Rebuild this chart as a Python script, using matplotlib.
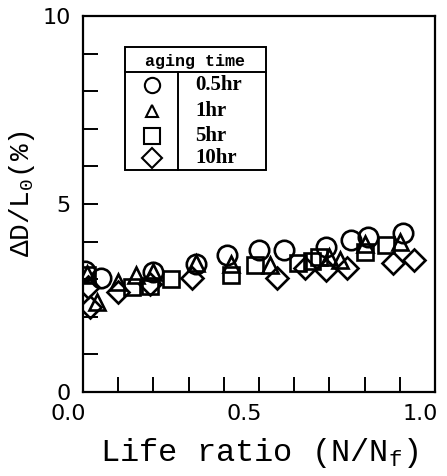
import matplotlib
matplotlib.use('Agg')
import matplotlib.pyplot as plt
from matplotlib.patches import Rectangle
from matplotlib.ticker import MultipleLocator, FormatStrFormatter
from matplotlib.transforms import ScaledTranslation

# life ratio (N/Nf) and dD/L0 (%), one pair of lists per aging time
x_05hr = [0.005, 0.05, 0.20, 0.32, 0.41, 0.50, 0.57, 0.69, 0.76, 0.81, 0.91]
y_05hr = [3.22, 3.04, 3.19, 3.40, 3.64, 3.78, 3.78, 3.86, 4.04, 4.12, 4.24]

x_1hr = [0.01, 0.04, 0.10, 0.15, 0.20, 0.32, 0.42, 0.53, 0.70, 0.73, 0.80, 0.90]
y_1hr = [3.15, 2.40, 2.92, 3.10, 3.20, 3.42, 3.40, 3.38, 3.60, 3.52, 3.94, 3.98]

x_5hr = [0.01, 0.14, 0.19, 0.25, 0.42, 0.49, 0.61, 0.65, 0.67, 0.80, 0.86]
y_5hr = [3.10, 2.78, 2.82, 3.00, 3.10, 3.38, 3.43, 3.48, 3.58, 3.72, 3.92]

x_10hr = [0.015, 0.02, 0.10, 0.19, 0.31, 0.55, 0.63, 0.69, 0.75, 0.88, 0.94]
y_10hr = [2.80, 2.25, 2.66, 2.86, 3.02, 3.03, 3.30, 3.24, 3.30, 3.43, 3.50]

labels = ['0.5hr', '1hr', '5hr', '10hr']
markers = ['o', '^', 's', 'D']
sizes = [14, 12, 12, 11]

fig = plt.figure(figsize=(4.47, 4.76), dpi=100)
ax = fig.add_axes([83/447, 84/476, 352/447, 376/476])

series = [(x_05hr, y_05hr), (x_1hr, y_1hr), (x_5hr, y_5hr), (x_10hr, y_10hr)]
for (xs, ys), m, s in zip(series, markers, sizes):
    ax.plot(xs, ys, linestyle='none', marker=m, markersize=s,
            markerfacecolor='none', markeredgecolor='black', markeredgewidth=1.9)

ax.set_xlim(0, 1.0)
ax.set_ylim(0, 10)
ax.xaxis.set_major_locator(MultipleLocator(0.5))
ax.xaxis.set_minor_locator(MultipleLocator(0.1))
ax.yaxis.set_major_locator(MultipleLocator(5))
ax.yaxis.set_minor_locator(MultipleLocator(1))
ax.xaxis.set_major_formatter(FormatStrFormatter('%.1f'))
ax.tick_params(which='both', direction='in', length=11, width=1.4,
               top=False, right=False, labelsize=16, pad=9)
for sp in ax.spines.values():
    sp.set_linewidth(1.6)

# x tick labels sit a bit left of their ticks in the original
shift = ScaledTranslation(-15/100, 0, fig.dpi_scale_trans)
for lab in ax.get_xticklabels():
    lab.set_transform(lab.get_transform() + shift)

mono = ['Liberation Mono', 'DejaVu Sans Mono']
ax.set_xlabel('Life ratio (N/N$_\\mathregular{f}$)', family=mono, fontsize=23, labelpad=8)
ax.set_ylabel('ΔD/L$_\\mathregular{0}$(%)', family=mono, fontsize=20)
ax.yaxis.set_label_coords(-0.131, 0.527)

# legend drawn as a little table, like the original
tr = ax.transAxes
ax.add_patch(Rectangle((0.119, 0.590), 0.401, 0.328, transform=tr,
                       fill=False, edgecolor='black', linewidth=1.4))
ax.plot([0.119, 0.520], [0.851, 0.851], transform=tr, color='black', linewidth=1.4)
ax.plot([0.270, 0.270], [0.590, 0.851], transform=tr, color='black', linewidth=1.4)
ax.text(0.318, 0.880, 'aging time', transform=tr, ha='center', va='center',
        family=mono, fontweight='bold', fontsize=12)
rows_y = [0.816, 0.747, 0.681, 0.622]
leg_sizes = [11, 8, 11, 10]
for yy, m, s, lab in zip(rows_y, markers, leg_sizes, labels):
    ax.plot([0.196], [yy], transform=tr, linestyle='none', marker=m, markersize=s,
            markerfacecolor='none', markeredgecolor='black', markeredgewidth=1.5)
    ax.text(0.318, yy, lab, transform=tr, ha='left', va='center',
            family='Liberation Serif', fontweight='bold', fontsize=15)

fig.savefig('out.png', dpi=100)
